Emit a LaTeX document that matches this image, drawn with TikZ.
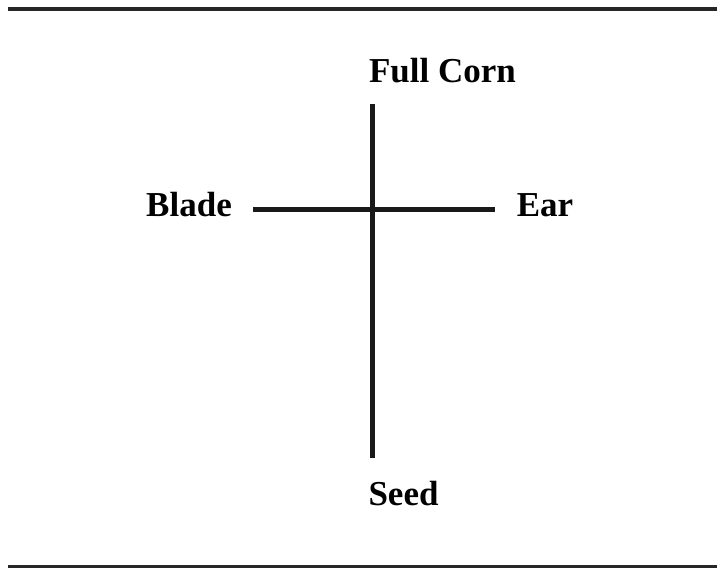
\documentclass[tikz,border=0pt]{standalone}
\usepackage{fontspec}
\setmainfont{Liberation Serif}
\begin{document}
\begin{tikzpicture}[x=1pt,y=-1pt,
  lbl/.style={font=\fontsize{35}{40}\selectfont\bfseries, anchor=base, inner sep=0pt},
  rule/.style={line width=3.5pt, draw=black!85},
  bar/.style={line width=5pt, draw=black!90}]
\useasboundingbox (0,0) rectangle (717,569);
\draw[rule] (8,9) -- (717,9);
\draw[rule] (8,566.5) -- (717,566.5);
\node[lbl] (full) at (442.5,83) {Full Corn};
\node[lbl] (blade) at (189,217) {Blade};
\node[lbl] (ear) at (545,217) {Ear};
\node[lbl] (seed) at (403.5,505) {Seed};
\coordinate (top) at (372,104);
\coordinate (bot) at (372,458);
\coordinate (lft) at (253,210);
\coordinate (rgt) at (495,210);
\draw[bar] (top) -- (bot);
\draw[bar] (lft) -- (rgt);
\end{tikzpicture}
\end{document}
